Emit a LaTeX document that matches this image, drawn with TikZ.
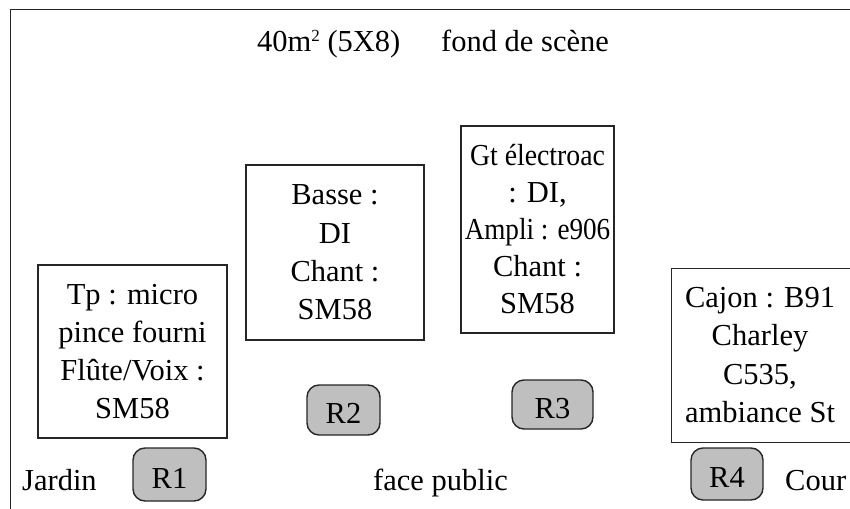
\documentclass[tikz,border=0pt]{standalone}
\usepackage{fontspec}
\usepackage{graphicx}
\setmainfont{Liberation Serif}
\begin{document}
\begin{tikzpicture}[x=1pt,y=-1pt,
  every node/.style={font=\fontsize{30.5}{38.3}\selectfont, text=black},
  frame/.style={draw=black!85, line width=1.4pt, inner sep=0pt},
  box/.style={frame, align=center},
  riser/.style={draw=black!85, line width=1.4pt, fill=black!25, rounded corners=12pt, inner sep=0pt, text height=27pt, text depth=0pt},
  lbl/.style={anchor=base west, inner sep=0pt}
]
\useasboundingbox (0,0) rectangle (850,508);
\fill[white] (0,0) rectangle (850,508);
% stage outline (extends beyond the page)
\node[frame, minimum width=870pt, minimum height=530pt, anchor=north west] (stage) at (10,9) {};
% title
\node[lbl] (t1) at (257,52) {40m\raisebox{10pt}{\fontsize{17}{17}\selectfont 2} (5X8)};
\node[lbl] (t2) at (441,52) {fond de scène};
% musician boxes
\node[box, minimum width=189pt, minimum height=173pt] (b1) at (132.5,351.5) {Tp : micro\\pince fourni\\Flûte/Voix :\\SM58};
\node[box, minimum width=178pt, minimum height=175pt] (b2) at (335,252.5) {Basse :\\DI\\Chant :\\SM58};
\node[box, minimum width=153pt, minimum height=207pt, font=\fontsize{30.5}{37}\selectfont] (b3) at (537.5,229.5) {\scalebox{0.91}[1]{Gt électroac}\\: DI,\\\scalebox{0.89}[1]{Ampli : e906}\\Chant :\\SM58};
\node[frame, minimum width=200pt, minimum height=174pt, anchor=north west] (b4) at (671,268) {};
\node[align=center, inner sep=0pt] (t4) at (760,355) {Cajon : B91\\Charley\\C535,\\ambiance St};
% risers
\node[riser, minimum width=73pt, minimum height=53pt] (r1) at (169.5,474.5) {R1};
\node[riser, minimum width=73pt, minimum height=50pt] (r2) at (343.5,410) {R2};
\node[riser, minimum width=81pt, minimum height=49pt] (r3) at (552.5,404.5) {R3};
\node[riser, minimum width=72pt, minimum height=52pt] (r4) at (727,474) {R4};
% bottom labels
\node[lbl] (jardin) at (22,490) {Jardin};
\node[lbl] (public) at (373,490) {face public};
\node[lbl] (cour) at (785,490) {Cour};
\end{tikzpicture}
\end{document}
